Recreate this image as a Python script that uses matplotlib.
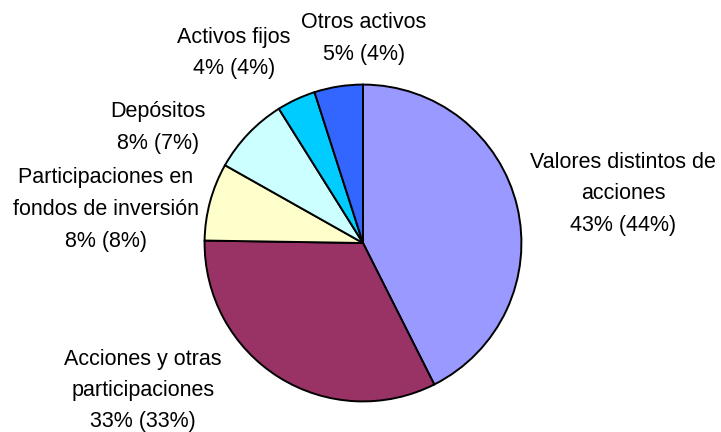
import matplotlib
matplotlib.use("Agg")
import matplotlib.pyplot as plt

# pie data (clockwise from 12 o'clock)
categories = ["Valores distintos de\nacciones", "Acciones y otras\nparticipaciones",
              "Participaciones en\nfondos de inversión", "Depósitos",
              "Activos fijos", "Otros activos"]
shares = [43, 33, 8, 8, 4, 5]
shares_prev = [44, 33, 8, 7, 4, 4]
colors = ["#9999FF", "#993366", "#FFFFCC", "#CCFFFF", "#00CCFF", "#3366FF"]

# label centres in pixels (x, y of first line) from the top-left of the image
label_px = [(623, 162), (143, 359), (106, 178), (158, 112), (234, 37), (364, 23)]

W, H = 721, 432
fig = plt.figure(figsize=(W / 100, H / 100), dpi=100)
fig.patch.set_facecolor("white")

cx, cy, r = 363, 243, 160
ax = fig.add_axes([(cx - r) / W, (H - cy - r) / H, 2 * r / W, 2 * r / H])
ax.pie(shares, colors=colors, startangle=90, counterclock=False,
       wedgeprops=dict(edgecolor="black", linewidth=1.4), radius=1)
ax.set_xlim(-1.01, 1.01)
ax.set_ylim(-1.01, 1.01)
ax.axis("off")

line_h = 31.5
for name, s, p, (x, y) in zip(categories, shares, shares_prev, label_px):
    lines = name.split("\n") + ["%d%% (%d%%)" % (s, p)]
    for i, t in enumerate(lines):
        fig.text(x / W, 1 - (y + i * line_h) / H, t, ha="center", va="center",
                 fontsize=15.5, family="Liberation Sans", color="black")

fig.savefig("out.png", dpi=100)
